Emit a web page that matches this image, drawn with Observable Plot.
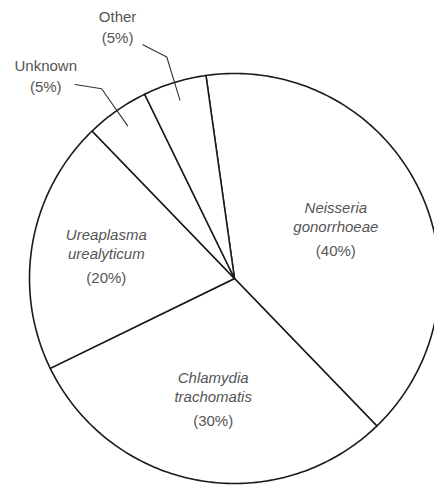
<!DOCTYPE html>
<html><head><meta charset="utf-8">
<script src="https://cdn.jsdelivr.net/npm/d3@7"></script>
<script src="https://cdn.jsdelivr.net/npm/@observablehq/plot@0.6"></script>
<style>body{margin:0;background:#fff}</style>
</head><body><div id="chart"></div>
<script>
// ---- data ----
const names = ["Neisseria\ngonorrhoeae", "Chlamydia\ntrachomatis", "Ureaplasma\nurealyticum", "Unknown", "Other"];
const percents = [40, 30, 20, 5, 5];
const italicNames = [true, true, true, false, false];
// ---- layout ----
const labelRadius = [0.55, 0.60, 0.635, 1.35, 1.35];
const labelTurn = [0, 0, 0, -8, -8];        // degrees
const W = 434, H = 485, cx = 234, cy = 278, R = 205;
const startDeg = -8;

const rad = d => d * Math.PI / 180;
const pie = d3.pie().sort(null).value(d => d.value)
  .startAngle(rad(startDeg)).endAngle(rad(startDeg) + 2 * Math.PI);
const arcs = pie(names.map((n, i) => ({name: n, value: percents[i], i})));
const pt = (a, r) => ({x: r * Math.sin(a), y: -r * Math.cos(a)});

const outline = [];
arcs.forEach((a, i) => {
  outline.push({slice: i, ...pt(0, 0)});
  const n = Math.ceil((a.endAngle - a.startAngle) / rad(1));
  for (let k = 0; k <= n; k++) outline.push({slice: i, ...pt(a.startAngle + (a.endAngle - a.startAngle) * k / n, 1)});
  outline.push({slice: i, ...pt(0, 0)});
});

const textLines = [];
const leaders = [];
arcs.forEach((a, i) => {
  const mid = (a.startAngle + a.endAngle) / 2;
  const p = pt(mid + rad(labelTurn[i]), labelRadius[i]);
  const nameLines = names[i].split("\n");
  const inside = labelRadius[i] < 1;
  const offs = inside ? [-21, -2] : [-10];
  nameLines.forEach((t, k) => textLines.push({x: p.x, y: p.y + offs[k] / R, text: t, italic: italicNames[i]}));
  textLines.push({x: p.x, y: p.y + (inside ? 22 : 11) / R, text: `(${percents[i]}%)`, italic: false});
  if (!inside) {
    leaders.push({slice: i, ...pt(mid, 0.91)});
    leaders.push({slice: i, ...pt(mid, 1.13)});
    leaders.push({slice: i, ...pt(mid - rad(4.4), 1.225)});
  }
});

const font = {fontSize: 15, fontFamily: "Liberation Sans, Arial, sans-serif", fill: "#555", textAnchor: "middle", lineAnchor: "middle"};
const chart = Plot.plot({
  width: W, height: H, margin: 0,
  x: {domain: [-cx / R, (W - cx) / R], range: [0, W], axis: null},
  y: {domain: [-cy / R, (H - cy) / R], range: [0, H], axis: null},
  marks: [
    Plot.line(outline, {x: "x", y: "y", z: "slice", stroke: "#1a1a1a", strokeWidth: 1.6, fill: "white", curve: "linear"}),
    Plot.line(leaders, {x: "x", y: "y", z: "slice", stroke: "#333", strokeWidth: 1.1}),
    Plot.text(textLines.filter(d => d.italic), {x: "x", y: "y", text: "text", fontStyle: "italic", ...font}),
    Plot.text(textLines.filter(d => !d.italic), {x: "x", y: "y", text: "text", ...font})
  ]
});
document.getElementById("chart").appendChild(chart);
</script>
</body></html>
